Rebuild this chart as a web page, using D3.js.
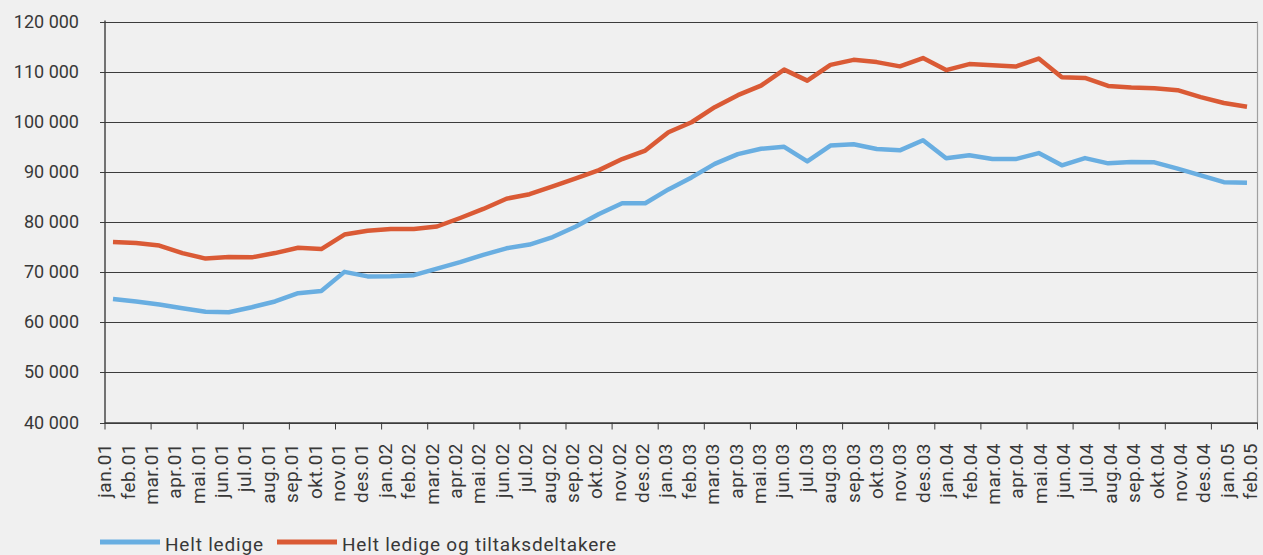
<!DOCTYPE html>
<html>
<head>
<meta charset="utf-8">
<script src="https://cdn.jsdelivr.net/npm/d3@7"></script>
<style>
  html, body { margin: 0; padding: 0; background: #f0f0f0; }
  svg { display: block; }
  text { font-family: Roboto, "Liberation Sans", sans-serif; fill: #383838; }
</style>
</head>
<body>
<svg id="chart" width="1263" height="555"></svg>
<script>
const months = [
  "jan.01","feb.01","mar.01","apr.01","mai.01","jun.01","jul.01","aug.01","sep.01","okt.01","nov.01","des.01",
  "jan.02","feb.02","mar.02","apr.02","mai.02","jun.02","jul.02","aug.02","sep.02","okt.02","nov.02","des.02",
  "jan.03","feb.03","mar.03","apr.03","mai.03","jun.03","jul.03","aug.03","sep.03","okt.03","nov.03","des.03",
  "jan.04","feb.04","mar.04","apr.04","mai.04","jun.04","jul.04","aug.04","sep.04","okt.04","nov.04","des.04",
  "jan.05","feb.05"
];
const heltLedige = [
  64650, 64150, 63550, 62800, 62100, 62000, 63000, 64150, 65800, 66250, 70050, 69150,
  69200, 69400, 70700, 72000, 73450, 74750, 75500, 77000, 79100, 81600, 83750, 83750,
  86500, 88900, 91600, 93550, 94600, 95000, 92100, 95250, 95500, 94550, 94300, 96300,
  92700, 93300, 92550, 92550, 93750, 91300, 92750, 91700, 91950, 91900, 90650, 89300,
  87950, 87850
];
const heltLedigeOgTiltak = [
  76000, 75800, 75300, 73800, 72700, 73000, 72950, 73800, 74850, 74600, 77500, 78250,
  78600, 78600, 79100, 80800, 82600, 84650, 85550, 87100, 88700, 90350, 92550, 94250,
  97900, 99900, 102900, 105300, 107200, 110400, 108200, 111350, 112350, 111900, 111050, 112700,
  110300, 111500, 111250, 111000, 112600, 108900, 108750, 107150, 106850, 106700, 106300, 104900,
  103750, 103000
];
const yTicks = [40000, 50000, 60000, 70000, 80000, 90000, 100000, 110000, 120000];
const seriesNames = ["Helt ledige", "Helt ledige og tiltaksdeltakere"];
const seriesColors = ["#69aee1", "#da5a35"];

const svg = d3.select("#chart");
const pLeft = 105, pRight = 1257.5, pTop = 21.5, pBottom = 422.5;

const y = d3.scaleLinear().domain([40000, 120000]).range([pBottom, pTop]);
const band = d3.scaleBand().domain(months).range([pLeft, pRight]);
const xPt = d3.scalePoint().domain(months).range([113, 1247]);
const xLab = d3.scalePoint().domain(months).range([104.5, 1250.5]);

const loc = d3.formatLocale({decimal: ",", thousands: " ", grouping: [3], currency: ["", ""]});
const fmt = loc.format(",");

// gridlines
svg.append("g").selectAll("line").data(yTicks).join("line")
  .attr("x1", pLeft).attr("x2", pRight)
  .attr("y1", d => Math.round(y(d)) + 0.5).attr("y2", d => Math.round(y(d)) + 0.5)
  .attr("stroke", "#3c3c3c").attr("stroke-width", 1);

// y axis ticks + labels
const yAxis = d3.axisLeft(y).tickValues(yTicks).tickFormat(fmt).tickSize(5).tickPadding(21);
const gy = svg.append("g").attr("transform", `translate(${pLeft},0)`).call(yAxis);
gy.select(".domain").remove();
gy.selectAll(".tick").attr("transform", d => `translate(0,${Math.round(y(d)) + 0.5})`);
gy.selectAll(".tick line").attr("stroke", "#3c3c3c");
gy.selectAll(".tick text").style("font-size", "18px").style("font-family", "Roboto, sans-serif").attr("fill", "#383838");

// right border
svg.append("line").attr("x1", pRight).attr("x2", pRight).attr("y1", pTop).attr("y2", pBottom)
  .attr("stroke", "#a0a0a0").attr("stroke-width", 1.2);

// left axis line
svg.append("line").attr("x1", pLeft).attr("x2", pLeft).attr("y1", pTop - 1).attr("y2", pBottom + 1)
  .attr("stroke", "#3c3c3c").attr("stroke-width", 1.4);

// bottom axis with ticks every two months (at category boundaries)
const tickIdx = d3.range(0, months.length + 1, 2);
const boundaryX = i => i < months.length ? band(months[i]) : pRight;
svg.append("line").attr("x1", pLeft).attr("x2", pRight).attr("y1", pBottom + 0.5).attr("y2", pBottom + 0.5)
  .attr("stroke", "#3c3c3c").attr("stroke-width", 1.4);
svg.append("g").selectAll("line").data(tickIdx).join("line")
  .attr("x1", i => boundaryX(i)).attr("x2", i => boundaryX(i))
  .attr("y1", pBottom).attr("y2", pBottom + 7)
  .attr("stroke", "#3c3c3c").attr("stroke-width", 1);

// x labels
svg.append("g").selectAll("text").data(months).join("text")
  .attr("transform", d => `translate(${xLab(d)},443) rotate(-90)`)
  .attr("text-anchor", "end")
  .attr("dy", "0.35em")
  .style("font-size", "19px")
  .style("letter-spacing", "0.5px")
  .text(d => d);

// lines
const line = d3.line().x((d, i) => xPt(months[i])).y(d => y(d));
[heltLedige, heltLedigeOgTiltak].forEach((s, k) => {
  svg.append("path").datum(s)
    .attr("d", line)
    .attr("fill", "none")
    .attr("stroke", seriesColors[k])
    .attr("stroke-width", 4.5)
    .attr("stroke-linejoin", "round");
});

// legend
const legendItems = [{x: 100, tx: 165}, {x: 277, tx: 342}];
legendItems.forEach((it, k) => {
  svg.append("line").attr("x1", it.x).attr("x2", it.x + 60).attr("y1", 542).attr("y2", 542)
    .attr("stroke", seriesColors[k]).attr("stroke-width", 5);
  svg.append("text").attr("x", it.tx).attr("y", 550.5)
    .style("font-size", "19px").style("letter-spacing", "0.8px")
    .text(seriesNames[k]);
});
</script>
</body>
</html>
